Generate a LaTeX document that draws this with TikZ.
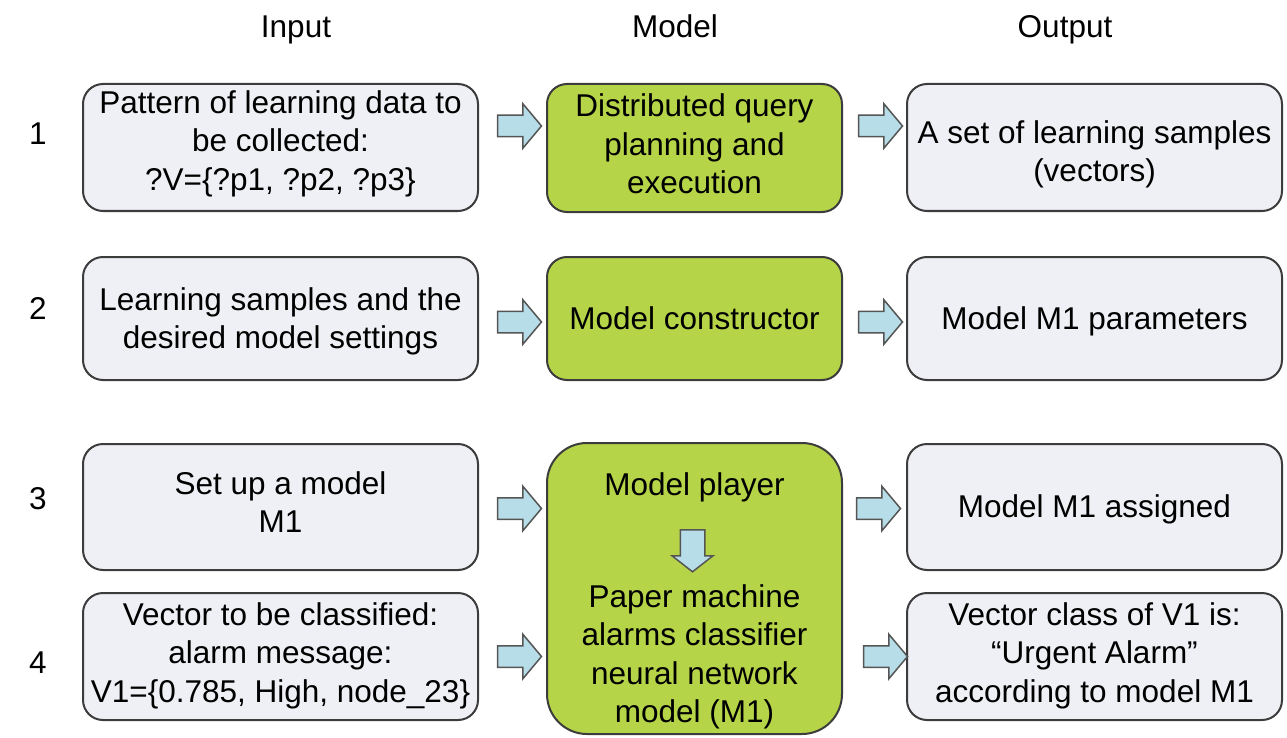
\documentclass[tikz,border=0pt]{standalone}
\usepackage{fontspec}
\setmainfont{Liberation Sans}
\usetikzlibrary{shapes.arrows}
\definecolor{boxgray}{RGB}{239,240,245}
\definecolor{boxline}{RGB}{60,60,60}
\definecolor{modelgreen}{RGB}{181,212,72}
\definecolor{arrowblue}{RGB}{183,222,232}
\definecolor{arrowline}{RGB}{85,85,85}
\begin{document}
\begin{tikzpicture}[x=1pt,y=-1pt,
  txt/.style={font=\fontsize{31.5}{38.5}\selectfont, align=center, inner sep=0pt},
  graybox/.style={draw=boxline, line width=2pt, fill=boxgray, rounded corners=20pt},
  greenbox/.style={draw=boxline, line width=2pt, fill=modelgreen, rounded corners=20pt},
  bigbox/.style={draw=boxline, line width=2pt, fill=modelgreen, rounded corners=40pt},
  flowarrow/.style={single arrow, draw=arrowline, line width=1.5pt, fill=arrowblue,
    inner xsep=0pt, inner ysep=10pt, single arrow head extend=11.5pt,
    single arrow tip angle=100, minimum height=44pt},
  downarrow/.style={flowarrow, rotate=-90, inner ysep=11.5pt,
    single arrow head extend=8pt, single arrow tip angle=104, minimum height=42pt},
  head/.style={txt, anchor=base},
  rownum/.style={txt, anchor=base}]
\useasboundingbox (0,0) rectangle (1287,738);

% column headings
\node[head] (hin)  at (296,38)  {Input};
\node[head] (hmod) at (675,38)  {Model};
\node[head] (hout) at (1065,38) {Output};

% row numbers
\node[rownum] (n1) at (38,145) {1};
\node[rownum] (n2) at (38,319) {2};
\node[rownum] (n3) at (38,509) {3};
\node[rownum] (n4) at (38,673) {4};

% input column
\node[graybox, minimum width=395pt, minimum height=127pt] (in1) at (280.5,147.5) {};
\node[txt] (in1t) at ([yshift=4pt]in1.center)
  {Pattern of learning data to\\ be collected:\\ ?V=\{?p1, ?p2, ?p3\}};
\node[graybox, minimum width=395pt, minimum height=123pt] (in2) at (280.5,318.5) {};
\node[txt] (in2t) at ([yshift=-3pt]in2.center)
  {Learning samples and the\\ desired model settings};
\node[graybox, minimum width=395pt, minimum height=126pt] (in3) at (280.5,507) {};
\node[txt] (in3t) at ([yshift=5pt]in3.center)
  {Set up a model\\ M1};
\node[graybox, minimum width=395pt, minimum height=127pt] (in4) at (280.5,656.5) {};
\node[txt] (in4t) at ([yshift=1pt]in4.center)
  {Vector to be classified:\\ alarm message:\\ V1=\{0.785, High, node\_23\}};

% model column
\node[greenbox, minimum width=295pt, minimum height=128pt] (m1) at (694.5,148) {};
\node[txt] (m1t) at ([yshift=4pt]m1.center)
  {Distributed query\\ planning and\\ execution};
\node[greenbox, minimum width=295pt, minimum height=123pt] (m2) at (694.5,318.5) {};
\node[txt] (m2t) at (m2.center) {Model constructor};
\node[bigbox, minimum width=295pt, minimum height=291pt] (m3) at (694.5,588.5) {};
\node[txt] (mplay) at (694.5,487) {Model player};
\node[downarrow] (mdown) at (692.5,546) {};
\node[txt] (mnet) at (694.5,657)
  {Paper machine\\ alarms classifier\\ neural network\\ model (M1)};

% output column
\node[graybox, minimum width=375pt, minimum height=127pt] (out1) at (1094.5,147.5) {};
\node[txt] (out1t) at ([yshift=-7pt]out1.center)
  {A set of learning samples\\ (vectors)};
\node[graybox, minimum width=375pt, minimum height=123pt] (out2) at (1094.5,318.5) {};
\node[txt] (out2t) at ([yshift=-3pt]out2.center) {Model M1 parameters};
\node[graybox, minimum width=375pt, minimum height=126pt] (out3) at (1094.5,507) {};
\node[txt] (out3t) at ([yshift=-2pt]out3.center) {Model M1 assigned};
\node[graybox, minimum width=375pt, minimum height=127pt] (out4) at (1094.5,656.5) {};
\node[txt] (out4t) at ([yshift=1pt]out4.center)
  {Vector class of V1 is:\\ “Urgent Alarm”\\ according to model M1};

% block arrows between the columns
\node[flowarrow] (a1l) at (515,126) {};
\node[flowarrow] (a1r) at (876,126) {};
\node[flowarrow] (a2l) at (515,322) {};
\node[flowarrow] (a2r) at (876,322) {};
\node[flowarrow] (a3l) at (515,508.5) {};
\node[flowarrow] (a3r) at (874,508.5) {};
\node[flowarrow] (a4l) at (515,656.5) {};
\node[flowarrow] (a4r) at (881,656.5) {};
\end{tikzpicture}
\end{document}
